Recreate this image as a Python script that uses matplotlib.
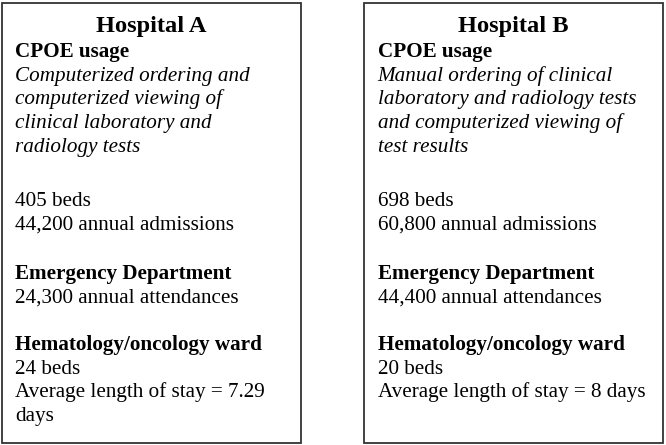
import matplotlib.pyplot as plt
from matplotlib.patches import Rectangle

# hospital facts
hospitals = ['Hospital A', 'Hospital B']
cpoe_text = [
    ['Computerized ordering and', 'computerized viewing of',
     'clinical laboratory and', 'radiology tests'],
    ['Manual ordering of clinical', 'laboratory and radiology tests',
     'and computerized viewing of', 'test results'],
]
beds = ['405', '698']
admissions = ['44,200', '60,800']
ed_attendances = ['24,300', '44,400']
ward_beds = ['24', '20']
stay_lines = [['Average length of stay = 7.29', 'days'],
              ['Average length of stay = 8 days']]

W, H = 666, 445
fig = plt.figure(figsize=(W / 100, H / 100), dpi=100)
ax = fig.add_axes([0, 0, 1, 1])
ax.set_xlim(0, W)
ax.set_ylim(H, 0)
ax.axis('off')

plt.rcParams['font.family'] = ['Liberation Serif', 'DejaVu Serif']

boxes = [(1.5, 300.5), (364, 663)]   # left, right of each panel
top, bottom = 2.5, 443
body_size = 15.2
line_h = 23.7
group_tops = [57, 206, 279, 350]   # baseline of first line in each block

for k, name in enumerate(hospitals):
    x0, x1 = boxes[k]
    ax.add_patch(Rectangle((x0, top), x1 - x0, bottom - top, fill=False,
                           edgecolor='#333333', linewidth=1.3))
    ax.text((x0 + x1) / 2, 32, name, ha='center', va='baseline',
            fontsize=17.6, fontweight='bold', color='black')

    groups = [
        [('CPOE usage', 'bold')] + [(s, 'italic') for s in cpoe_text[k]],
        [(beds[k] + ' beds', 'normal'),
         (admissions[k] + ' annual admissions', 'normal')],
        [('Emergency Department', 'bold'),
         (ed_attendances[k] + ' annual attendances', 'normal')],
        [('Hematology/oncology ward', 'bold'),
         (ward_beds[k] + ' beds', 'normal')]
        + [(s, 'normal') for s in stay_lines[k]],
    ]

    tx = x0 + 13.5
    for g, lines in enumerate(groups):
        for i, (s, style) in enumerate(lines):
            y = group_tops[g] + i * line_h
            ax.text(tx, y, s, ha='left', va='baseline', fontsize=body_size,
                    fontweight='bold' if style == 'bold' else 'normal',
                    fontstyle='italic' if style == 'italic' else 'normal',
                    color='black')

fig.savefig('out.png', dpi=100)
